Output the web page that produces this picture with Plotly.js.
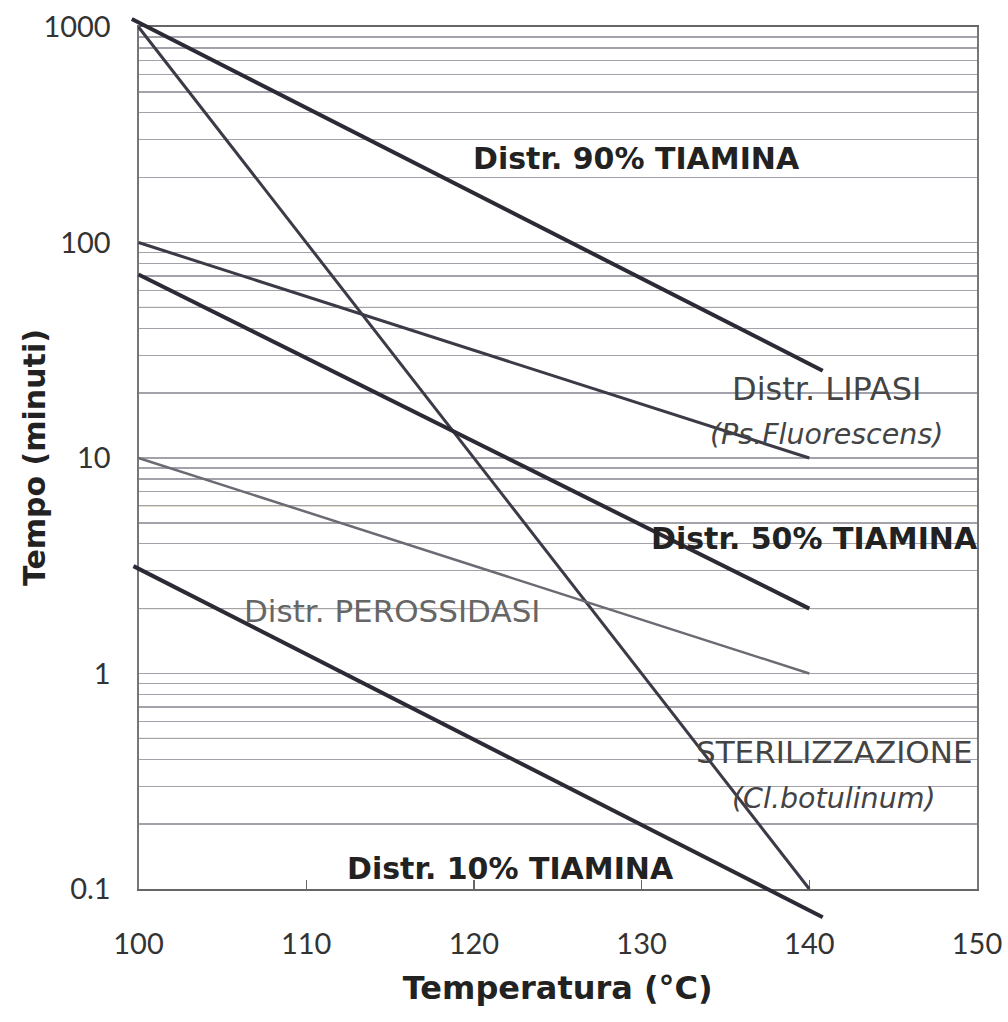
<!DOCTYPE html>
<html>
<head>
<meta charset="utf-8">
<script src="https://cdn.plot.ly/plotly-3.0.1.min.js"></script>
<style>html,body{margin:0;padding:0;background:#fff;}#chart{width:1008px;height:1022px;}</style>
</head>
<body>
<div id="chart"></div>
<script>
// ---- data ----
const tempTiamina90 = [99.6, 140.8];
const timeTiamina90 = [1090, 25.4];
const tempSteril = [100, 140];
const timeSteril = [1000, 0.1];
const tempLipasi = [100, 140];
const timeLipasi = [100, 10];
const tempTiamina50 = [100, 140];
const timeTiamina50 = [71, 2];
const tempPerossidasi = [100, 140];
const timePerossidasi = [10, 1];
const tempTiamina10 = [99.7, 140.8];
const timeTiamina10 = [3.15, 0.074];

const xTicks = [100, 110, 120, 130, 140, 150];
const yTicks = [0.1, 1, 10, 100, 1000];
const yTickText = ['0.1', '1', '10', '100', '1000'];
const tanGridValues = [800, 500, 50, 6, 2, 0.5, 0.2];

const labelTexts = ['<b>Distr. 90% TIAMINA</b>', 'Distr. LIPASI', '<i>(Ps.Fluorescens)</i>',
  '<b>Distr. 50% TIAMINA</b>', 'Distr. PEROSSIDASI', 'STERILIZZAZIONE', '<i>(Cl.botulinum)</i>',
  '<b>Distr. 10% TIAMINA</b>'];
const labelX = [129.7, 141.0, 141.0, 140.3, 115.1, 141.5, 141.5, 122.2];
const labelY = [246, 20.9, 12.9, 4.25, 1.94, 0.434, 0.262, 0.124];

const xTitle = '<b>Temperatura (°C)</b>';
const yTitle = '<b>Tempo (minuti)</b>';

// ---- layout geometry (pixels) ----
const W = 1008, H = 1022;
const M = {l: 100, r: 20, t: 10, b: 100};
const plotL = 138.5, plotR = 977, plotT = 27, plotB = 889;
const areaW = W - M.l - M.r, areaH = H - M.t - M.b;
const xMin = 100, xMax = 150, yMinL = -1, yMaxL = 3;
const pxPerX = (plotR - plotL) / (xMax - xMin);
const pxPerDec = (plotB - plotT) / (yMaxL - yMinL);
const xDom = [(plotL - M.l) / areaW, (plotR - M.l) / areaW];
const yDom = [(H - M.b - plotB) / areaH, (H - M.b - plotT) / areaH];
const x2Range = [xMin - (plotL - M.l) / pxPerX, xMax + (W - M.r - plotR) / pxPerX];
const y2Range = [yMinL - (H - M.b - plotB) / pxPerDec, yMaxL + (plotT - M.t) / pxPerDec];

const dark = '#2d2a36';
function line(x, y, color, width) {
  return {x: x, y: y, xaxis: 'x2', yaxis: 'y2', type: 'scatter', mode: 'lines',
    line: {color: color, width: width}, hoverinfo: 'skip', showlegend: false};
}
const traces = [
  line(tempTiamina90, timeTiamina90, dark, 4),
  line(tempSteril, timeSteril, '#3d3a47', 3),
  line(tempLipasi, timeLipasi, '#3d3a47', 3),
  line(tempTiamina50, timeTiamina50, dark, 4),
  line(tempPerossidasi, timePerossidasi, '#6c6a72', 2.5),
  line(tempTiamina10, timeTiamina10, dark, 4)
];

const labelFont = 'DejaVu Sans, Verdana, sans-serif';
const labelColors = ['#222', '#444', '#444', '#222', '#666', '#444', '#444', '#222'];
const labelSizes = [30, 32, 28.5, 30, 31, 31, 28.5, 30];
const annotations = labelTexts.map((t, i) => ({
  text: t, x: labelX[i], y: Math.log10(labelY[i]), xref: 'x', yref: 'y',
  showarrow: false, xanchor: 'center', yanchor: 'middle',
  font: {family: labelFont, size: labelSizes[i], color: labelColors[i]}
}));
// y-axis title, placed as rotated text left of the tick labels
annotations.push({
  text: yTitle, textangle: -90, xref: 'paper', yref: 'y domain', x: 0, y: 0.5,
  xanchor: 'center', yanchor: 'middle', xshift: 34 - M.l, showarrow: false,
  font: {family: labelFont, size: 30, color: '#222'}
});

const shapes = tanGridValues.map(v => ({
  type: 'line', xref: 'x domain', yref: 'y', x0: 0, x1: 1, y0: v, y1: v,
  line: {color: '#c9bb9c', width: 1.3}, layer: 'below'
}));

const layout = {
  width: W, height: H,
  margin: M,
  paper_bgcolor: '#ffffff', plot_bgcolor: 'rgba(0,0,0,0)',
  showlegend: false,
  xaxis: {
    domain: xDom, range: [xMin, xMax], tickvals: xTicks,
    ticks: 'inside', ticklen: 9, tickwidth: 1.2, tickcolor: '#666',
    showgrid: false, zeroline: false,
    showline: true, linecolor: '#666', linewidth: 2, mirror: true,
    tickfont: {family: 'Lato, sans-serif', size: 29, color: '#333'},
    ticklabelstandoff: 28,
    title: {text: xTitle, standoff: 18,
      font: {family: labelFont, size: 32, color: '#222'}}
  },
  yaxis: {
    domain: yDom, type: 'log', range: [yMinL, yMaxL],
    tickvals: yTicks, ticktext: yTickText, ticks: '',
    showgrid: true, gridcolor: '#a3a2aa', gridwidth: 1.3,
    minor: {dtick: 'D1', showgrid: true, gridcolor: '#a3a2aa', gridwidth: 1.3, ticks: ''},
    zeroline: false, showline: true, linecolor: '#777', linewidth: 2, mirror: true,
    tickfont: {family: 'Lato, sans-serif', size: 29, color: '#333'},
    ticklabelstandoff: 20
  },
  xaxis2: {domain: [0, 1], range: x2Range, visible: false, anchor: 'y2'},
  yaxis2: {domain: [0, 1], type: 'log', range: y2Range, visible: false, anchor: 'x2'},
  annotations: annotations,
  shapes: shapes
};

Plotly.newPlot('chart', traces, layout, {displayModeBar: false, staticPlot: true});
</script>
</body>
</html>
